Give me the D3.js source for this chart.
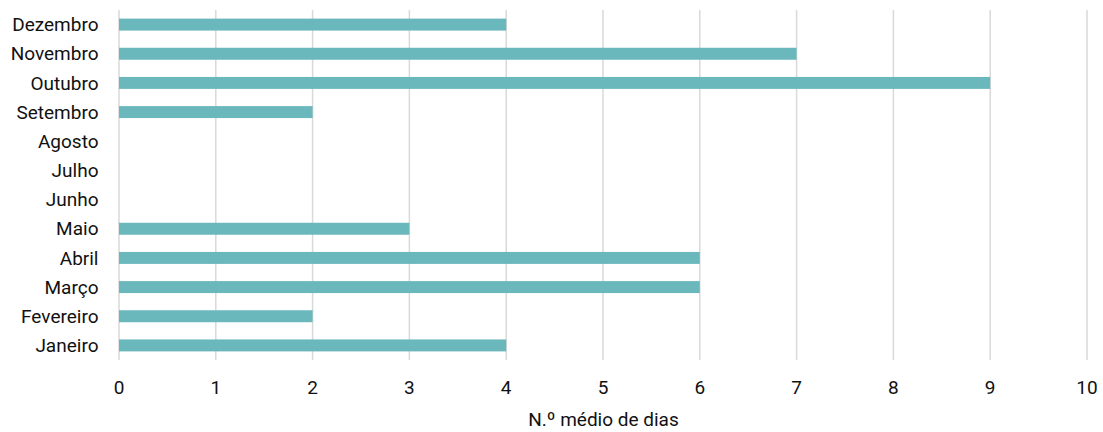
<!DOCTYPE html>
<html><head><meta charset="utf-8">
<script src="https://cdn.jsdelivr.net/npm/d3@7"></script>
<style>body{margin:0;background:#fff}svg{display:block}text{font-family:Roboto,"Noto Sans",sans-serif;fill:#111}</style>
</head><body><svg id="c" width="1103" height="432"></svg>
<script>
const months = ["Janeiro","Fevereiro","Março","Abril","Maio","Junho","Julho","Agosto","Setembro","Outubro","Novembro","Dezembro"];
const values = [4,2,6,6,3,0,0,0,2,9,7,4];
const xTicks = [0,1,2,3,4,5,6,7,8,9,10];
const xTitle = "N.º médio de dias";

const svg = d3.select("#c");
const mLeft = 119, mRight = 1087, mTop = 10, mBottom = 360;
const fs = 19;
const x = d3.scaleLinear().domain([0,10]).range([mLeft,mRight]);
const y = d3.scaleBand().domain(months.slice().reverse()).range([mTop,mBottom]).paddingInner(0.59).paddingOuter(0.295);

svg.append("g").selectAll("line").data(xTicks).join("line")
  .attr("x1",d=>x(d)).attr("x2",d=>x(d)).attr("y1",mTop).attr("y2",mBottom)
  .attr("stroke","#d9d9d9").attr("stroke-width",1.5);

svg.append("g").selectAll("rect").data(months).join("rect")
  .attr("x",x(0)).attr("y",d=>y(d)).attr("height",y.bandwidth())
  .attr("width",(d,i)=>x(values[i])-x(0)).attr("fill","#6AB7BC");

svg.append("g").selectAll("text").data(months).join("text")
  .attr("x",98.5).attr("y",d=>y(d)+y.bandwidth()/2).attr("dy","0.35em")
  .attr("text-anchor","end").attr("font-size",fs).text(d=>d);

svg.append("g").selectAll("text").data(xTicks).join("text")
  .attr("x",d=>x(d)).attr("y",387).attr("dy","0.35em")
  .attr("text-anchor","middle").attr("font-size",fs).text(d=>d);

svg.append("text").attr("x",603.5).attr("y",419).attr("dy","0.35em")
  .attr("text-anchor","middle").attr("font-size",fs).text(xTitle);
</script></body></html>
